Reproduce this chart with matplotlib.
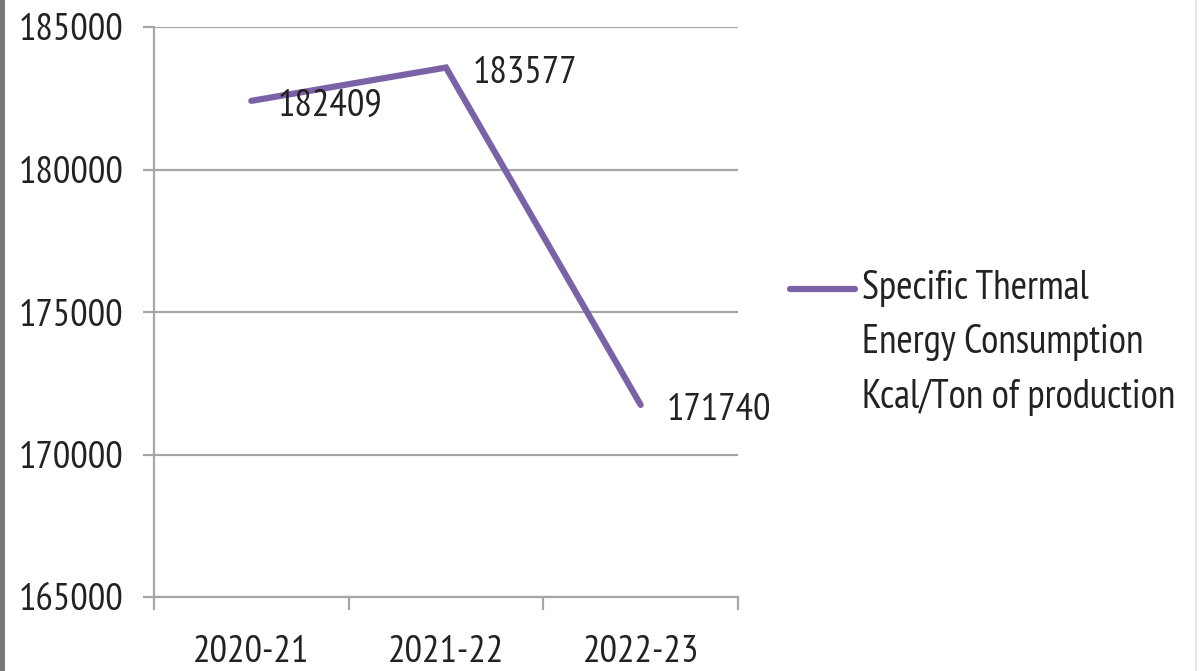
import matplotlib
matplotlib.use("Agg")
import matplotlib.pyplot as plt
from matplotlib.patches import Rectangle
from matplotlib.lines import Line2D

categories = ["2020-21", "2021-22", "2022-23"]
values = [182409, 183577, 171740]
series_name = "Specific Thermal\nEnergy Consumption\nKcal/Ton of production"
y_ticks = [165000, 170000, 175000, 180000, 185000]

plt.rcParams['font.family'] = ['PT Sans Narrow', 'Carlito', 'DejaVu Sans']
FS = 28
color = "#7b62a6"
grid = "#a6a6a6"
tc = "#222222"

fig = plt.figure(figsize=(11.99, 6.71), dpi=100)
ax = fig.add_axes([154/1199, 1-597/671, (738-154)/1199, (597-27)/671])

x = list(range(1, len(categories)+1))
ax.plot(x, values, color=color, lw=4.5, solid_capstyle='round', solid_joinstyle='miter')

for xi, v in zip(x, values):
    ax.annotate(f"{v}", (xi, v), xytext=(19, -4), textcoords='offset points',
                ha='left', va='center', fontsize=FS, color=tc)

ax.set_xlim(0.5, len(categories)+0.5)
ax.set_ylim(y_ticks[0], y_ticks[-1])
ax.set_yticks(y_ticks)
ax.set_yticklabels([str(t) for t in y_ticks], fontsize=FS, color=tc)
ax.yaxis.grid(True, color=grid, lw=1.6)
ax.set_axisbelow(True)

ax.set_xticks([i + 0.5 for i in range(len(categories)+1)])
ax.set_xticklabels([])
ax.set_xticks(x, minor=True)
ax.set_xticklabels(categories, minor=True, fontsize=FS, color=tc)
ax.tick_params(axis='x', which='minor', length=0, pad=27)
ax.tick_params(axis='x', which='major', length=9, width=1.6, color=grid, direction='out')
ax.tick_params(axis='y', length=8, width=1.6, color=grid, direction='out', pad=14)

for s in ['top', 'right']:
    ax.spines[s].set_visible(False)
for s in ['left', 'bottom']:
    ax.spines[s].set_color(grid)
    ax.spines[s].set_linewidth(1.6)

# legend
fig.add_artist(Line2D([790/1199, 855/1199], [1-289/671, 1-289/671], color=color, lw=4.5,
                      solid_capstyle='round'))
fig.text(862/1199, 1-343/671, series_name, fontsize=FS + 0.5, color=tc,
         ha='left', va='center', linespacing=1.6)

# frame edges
fig.add_artist(Rectangle((0, 0), 5/1199, 1, transform=fig.transFigure, color='#7a7a7a', lw=0))
fig.add_artist(Rectangle((1195/1199, 0), 2/1199, 1, transform=fig.transFigure, color='#e6e6e6', lw=0))

fig.savefig("out.png", dpi=100)
